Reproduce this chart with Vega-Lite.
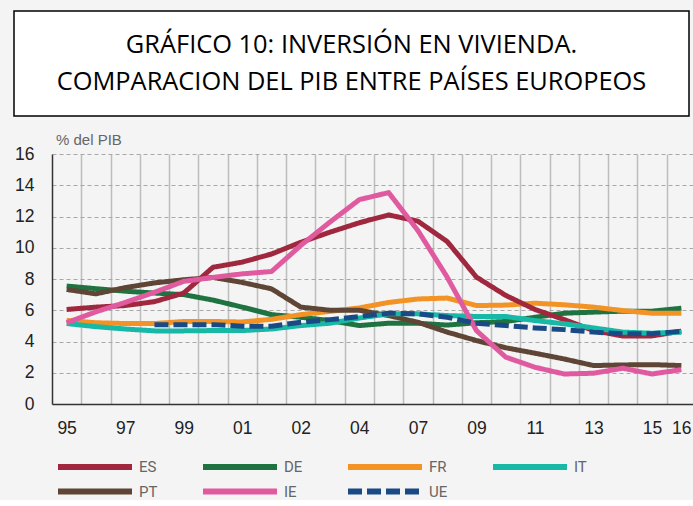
{
  "$schema": "https://vega.github.io/schema/vega-lite/v6.json",
  "background": "#f4f4f4",
  "padding": {"left": 13, "top": 10, "right": 0, "bottom": 0},
  "config": {"view": {"stroke": null}, "concat": {"spacing": 16}},
  "vconcat": [
    {
      "width": 675,
      "height": 105,
      "view": {"fill": "white", "stroke": "black", "strokeWidth": 1.5},
      "data": {"values": [{"t": "title"}]},
      "mark": {"type": "text", "font": "Open Sans", "fontSize": 25.4, "lineHeight": 37, "dy": -18.5, "color": "black", "align": "center", "baseline": "middle"},
      "encoding": {"text": {"value": ["GRÁFICO 10: INVERSIÓN EN VIVIENDA.", "COMPARACION DEL PIB ENTRE PAÍSES EUROPEOS"]}}
    },
    {
      "width": 680,
      "height": 250,
      "title": {"text": "% del PIB", "anchor": "start", "frame": "group", "font": "Liberation Sans", "fontSize": 15, "fontWeight": "normal", "color": "#666666", "offset": -3, "dx": 42},
      "data": {"values": [
        {"year": 1995, "country": "DE", "value": 7.55}, {"year": 1996, "country": "DE", "value": 7.38}, {"year": 1997, "country": "DE", "value": 7.22}, {"year": 1998, "country": "DE", "value": 7.1}, {"year": 1999, "country": "DE", "value": 7.0}, {"year": 2000, "country": "DE", "value": 6.65}, {"year": 2001, "country": "DE", "value": 6.2}, {"year": 2002, "country": "DE", "value": 5.72}, {"year": 2003, "country": "DE", "value": 5.55}, {"year": 2004, "country": "DE", "value": 5.34}, {"year": 2005, "country": "DE", "value": 5.02}, {"year": 2006, "country": "DE", "value": 5.17}, {"year": 2007, "country": "DE", "value": 5.17}, {"year": 2008, "country": "DE", "value": 5.05}, {"year": 2009, "country": "DE", "value": 5.2}, {"year": 2010, "country": "DE", "value": 5.28}, {"year": 2011, "country": "DE", "value": 5.55}, {"year": 2012, "country": "DE", "value": 5.81}, {"year": 2013, "country": "DE", "value": 5.88}, {"year": 2014, "country": "DE", "value": 5.94}, {"year": 2015, "country": "DE", "value": 5.94}, {"year": 2016, "country": "DE", "value": 6.13},
        {"year": 1995, "country": "FR", "value": 5.35}, {"year": 1996, "country": "FR", "value": 5.2}, {"year": 1997, "country": "FR", "value": 5.15}, {"year": 1998, "country": "FR", "value": 5.15}, {"year": 1999, "country": "FR", "value": 5.28}, {"year": 2000, "country": "FR", "value": 5.28}, {"year": 2001, "country": "FR", "value": 5.25}, {"year": 2002, "country": "FR", "value": 5.42}, {"year": 2003, "country": "FR", "value": 5.72}, {"year": 2004, "country": "FR", "value": 5.93}, {"year": 2005, "country": "FR", "value": 6.15}, {"year": 2006, "country": "FR", "value": 6.5}, {"year": 2007, "country": "FR", "value": 6.72}, {"year": 2008, "country": "FR", "value": 6.78}, {"year": 2009, "country": "FR", "value": 6.3}, {"year": 2010, "country": "FR", "value": 6.33}, {"year": 2011, "country": "FR", "value": 6.45}, {"year": 2012, "country": "FR", "value": 6.35}, {"year": 2013, "country": "FR", "value": 6.2}, {"year": 2014, "country": "FR", "value": 5.98}, {"year": 2015, "country": "FR", "value": 5.81}, {"year": 2016, "country": "FR", "value": 5.81},
        {"year": 1995, "country": "PT", "value": 7.33}, {"year": 1996, "country": "PT", "value": 7.05}, {"year": 1997, "country": "PT", "value": 7.45}, {"year": 1998, "country": "PT", "value": 7.75}, {"year": 1999, "country": "PT", "value": 7.95}, {"year": 2000, "country": "PT", "value": 8.1}, {"year": 2001, "country": "PT", "value": 7.78}, {"year": 2002, "country": "PT", "value": 7.37}, {"year": 2003, "country": "PT", "value": 6.2}, {"year": 2004, "country": "PT", "value": 6.0}, {"year": 2005, "country": "PT", "value": 6.0}, {"year": 2006, "country": "PT", "value": 5.66}, {"year": 2007, "country": "PT", "value": 5.23}, {"year": 2008, "country": "PT", "value": 4.6}, {"year": 2009, "country": "PT", "value": 4.06}, {"year": 2010, "country": "PT", "value": 3.6}, {"year": 2011, "country": "PT", "value": 3.25}, {"year": 2012, "country": "PT", "value": 2.88}, {"year": 2013, "country": "PT", "value": 2.46}, {"year": 2014, "country": "PT", "value": 2.5}, {"year": 2015, "country": "PT", "value": 2.52}, {"year": 2016, "country": "PT", "value": 2.46},
        {"year": 1995, "country": "ES", "value": 6.05}, {"year": 1996, "country": "ES", "value": 6.2}, {"year": 1997, "country": "ES", "value": 6.3}, {"year": 1998, "country": "ES", "value": 6.55}, {"year": 1999, "country": "ES", "value": 7.1}, {"year": 2000, "country": "ES", "value": 8.75}, {"year": 2001, "country": "ES", "value": 9.08}, {"year": 2002, "country": "ES", "value": 9.6}, {"year": 2003, "country": "ES", "value": 10.35}, {"year": 2004, "country": "ES", "value": 11.0}, {"year": 2005, "country": "ES", "value": 11.6}, {"year": 2006, "country": "ES", "value": 12.1}, {"year": 2007, "country": "ES", "value": 11.7}, {"year": 2008, "country": "ES", "value": 10.4}, {"year": 2009, "country": "ES", "value": 8.12}, {"year": 2010, "country": "ES", "value": 6.95}, {"year": 2011, "country": "ES", "value": 6.05}, {"year": 2012, "country": "ES", "value": 5.4}, {"year": 2013, "country": "ES", "value": 4.7}, {"year": 2014, "country": "ES", "value": 4.35}, {"year": 2015, "country": "ES", "value": 4.36}, {"year": 2016, "country": "ES", "value": 4.66},
        {"year": 1995, "country": "IT", "value": 5.15}, {"year": 1996, "country": "IT", "value": 4.95}, {"year": 1997, "country": "IT", "value": 4.8}, {"year": 1998, "country": "IT", "value": 4.68}, {"year": 1999, "country": "IT", "value": 4.68}, {"year": 2000, "country": "IT", "value": 4.7}, {"year": 2001, "country": "IT", "value": 4.7}, {"year": 2002, "country": "IT", "value": 4.8}, {"year": 2003, "country": "IT", "value": 5.02}, {"year": 2004, "country": "IT", "value": 5.17}, {"year": 2005, "country": "IT", "value": 5.5}, {"year": 2006, "country": "IT", "value": 5.77}, {"year": 2007, "country": "IT", "value": 5.77}, {"year": 2008, "country": "IT", "value": 5.66}, {"year": 2009, "country": "IT", "value": 5.6}, {"year": 2010, "country": "IT", "value": 5.6}, {"year": 2011, "country": "IT", "value": 5.34}, {"year": 2012, "country": "IT", "value": 5.13}, {"year": 2013, "country": "IT", "value": 4.87}, {"year": 2014, "country": "IT", "value": 4.6}, {"year": 2015, "country": "IT", "value": 4.53}, {"year": 2016, "country": "IT", "value": 4.6},
        {"year": 1995, "country": "IE", "value": 5.2}, {"year": 1996, "country": "IE", "value": 5.9}, {"year": 1997, "country": "IE", "value": 6.5}, {"year": 1998, "country": "IE", "value": 7.15}, {"year": 1999, "country": "IE", "value": 7.85}, {"year": 2000, "country": "IE", "value": 8.1}, {"year": 2001, "country": "IE", "value": 8.33}, {"year": 2002, "country": "IE", "value": 8.48}, {"year": 2003, "country": "IE", "value": 10.15}, {"year": 2004, "country": "IE", "value": 11.65}, {"year": 2005, "country": "IE", "value": 13.08}, {"year": 2006, "country": "IE", "value": 13.53}, {"year": 2007, "country": "IE", "value": 11.1}, {"year": 2008, "country": "IE", "value": 8.12}, {"year": 2009, "country": "IE", "value": 4.7}, {"year": 2010, "country": "IE", "value": 3.0}, {"year": 2011, "country": "IE", "value": 2.35}, {"year": 2012, "country": "IE", "value": 1.92}, {"year": 2013, "country": "IE", "value": 1.97}, {"year": 2014, "country": "IE", "value": 2.29}, {"year": 2015, "country": "IE", "value": 1.92}, {"year": 2016, "country": "IE", "value": 2.2},
        {"year": 1998, "country": "UE", "value": 5.08}, {"year": 1999, "country": "UE", "value": 5.08}, {"year": 2000, "country": "UE", "value": 5.08}, {"year": 2001, "country": "UE", "value": 4.98}, {"year": 2002, "country": "UE", "value": 4.98}, {"year": 2003, "country": "UE", "value": 5.23}, {"year": 2004, "country": "UE", "value": 5.4}, {"year": 2005, "country": "UE", "value": 5.6}, {"year": 2006, "country": "UE", "value": 5.81}, {"year": 2007, "country": "UE", "value": 5.77}, {"year": 2008, "country": "UE", "value": 5.55}, {"year": 2009, "country": "UE", "value": 5.17}, {"year": 2010, "country": "UE", "value": 5.02}, {"year": 2011, "country": "UE", "value": 4.87}, {"year": 2012, "country": "UE", "value": 4.76}, {"year": 2013, "country": "UE", "value": 4.6}, {"year": 2014, "country": "UE", "value": 4.49}, {"year": 2015, "country": "UE", "value": 4.49}, {"year": 2016, "country": "UE", "value": 4.66}
      ]},
      "mark": {"type": "line", "strokeWidth": 5, "strokeCap": "butt", "strokeJoin": "round"},
      "encoding": {
        "x": {
          "field": "year", "type": "quantitative",
          "scale": {"domain": [1994.5, 2016.5], "range": [38, 682], "nice": false, "zero": false},
          "axis": {
            "title": null,
            "values": [1995.5, 1996.5, 1997.5, 1998.5, 1999.5, 2000.5, 2001.5, 2002.5, 2003.5, 2004.5, 2005.5, 2006.5, 2007.5, 2008.5, 2009.5, 2010.5, 2011.5, 2012.5, 2013.5, 2014.5, 2015.5, 2016.5],
            "labelExpr": "datum.value == 1995.5 ? '95' : datum.value == 1997.5 ? '97' : datum.value == 1999.5 ? '99' : datum.value == 2001.5 ? '01' : datum.value == 2003.5 ? '02' : datum.value == 2005.5 ? '04' : datum.value == 2007.5 ? '07' : datum.value == 2009.5 ? '09' : datum.value == 2011.5 ? '11' : datum.value == 2013.5 ? '13' : datum.value == 2015.5 ? '15' : datum.value == 2016.5 ? '16' : ''",
            "labelOffset": -14.65,
            "labelOverlap": false,
            "labelBound": false,
            "labelFlush": false,
            "grid": true, "gridColor": "#bdbdbd", "gridWidth": 1.5,
            "ticks": false,
            "domainColor": "#333333", "domainWidth": 1.5,
            "labelFont": "Liberation Sans", "labelFontSize": 17.5, "labelColor": "#222222", "labelPadding": 15
          }
        },
        "y": {
          "field": "value", "type": "quantitative",
          "scale": {"domain": [0, 16], "nice": false},
          "axis": {
            "title": null,
            "offset": -38,
            "values": [0, 2, 4, 6, 8, 10, 12, 14, 16],
            "grid": true, "gridDash": [4, 3], "gridColor": "#a8a8a8", "gridWidth": 1,
            "ticks": false,
            "domainColor": "#333333", "domainWidth": 1.5,
            "labelFont": "Liberation Sans", "labelFontSize": 17.5, "labelColor": "#222222", "labelPadding": 18
          }
        },
        "color": {
          "field": "country", "type": "nominal",
          "scale": {"domain": ["ES", "DE", "FR", "IT", "PT", "IE", "UE"], "range": ["#a0283e", "#1e7340", "#f39325", "#17b8a6", "#5e4535", "#e05a9f", "#1a4a85"]},
          "legend": {"orient": "none", "legendX": 41, "legendY": 448, "direction": "horizontal", "columns": 4, "title": null, "symbolType": "stroke", "symbolSize": 5476, "symbolStrokeWidth": 6, "clipHeight": 16, "labelFont": "Roboto", "labelFontSize": 15, "labelColor": "#666666", "labelOffset": 4, "columnPadding": 42, "rowPadding": 8.5, "gridAlign": "all", "padding": 0}
        },
        "strokeDash": {
          "field": "country", "type": "nominal",
          "scale": {"domain": ["ES", "DE", "FR", "IT", "PT", "IE", "UE"], "range": [[1, 0], [1, 0], [1, 0], [1, 0], [1, 0], [1, 0], [14, 5]]},
          "legend": {"orient": "none", "legendX": 41, "legendY": 448, "direction": "horizontal", "columns": 4, "title": null, "symbolType": "stroke", "symbolSize": 5476, "symbolStrokeWidth": 6, "clipHeight": 16, "labelFont": "Roboto", "labelFontSize": 15, "labelColor": "#666666", "labelOffset": 4, "columnPadding": 42, "rowPadding": 8.5, "gridAlign": "all", "padding": 0}
        }
      }
    }
  ]
}
